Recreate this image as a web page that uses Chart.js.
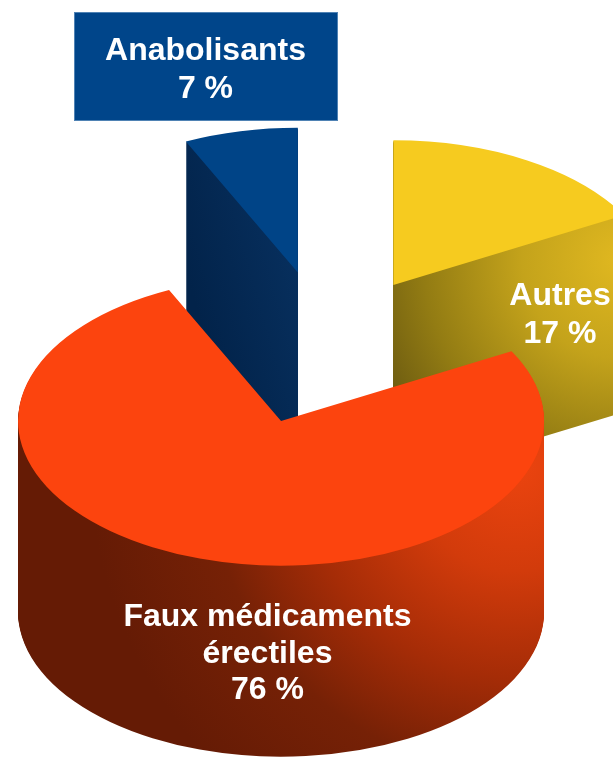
<!DOCTYPE html>
<html lang="fr"><head><meta charset="utf-8">
<style>html,body{margin:0;padding:0;background:#fff}canvas{display:block}</style>
<script src="https://cdn.jsdelivr.net/npm/chart.js@4"></script>
</head><body><canvas id="c" width="613" height="757"></canvas>
<script>
const categories = ['Autres', 'Faux médicaments\nérectiles', 'Anabolisants'];
const values = [17, 76, 7];
const topColors = ['#f6cb1f', '#fc440e', '#004487'];

const W = 613, H = 757, CX = 327.7, CY = 346, K = 0.55;
const depth = [197, 191, 200];
const explode = [129, 151, 137];
const lift = [0, -4, 0];
const drawOrder = [2, 0, 1];
const labelSpots = [
  {x: 560, y: 305, gap: 37.5},
  {x: 267.5, y: 626, gap: 36.5},
  {x: 205.5, y: 60, gap: 37.5}
];
function wallShade(c, i) {
  let g;
  if (i === 1) {
    g = c.createRadialGradient(515, 465, 0, 515, 465, 425);
    g.addColorStop(0, '#ec440f'); g.addColorStop(.25, '#d23b0b'); g.addColorStop(.5, '#a52c07');
    g.addColorStop(.72, '#762106'); g.addColorStop(1, '#651b05');
  } else if (i === 0) {
    g = c.createRadialGradient(620, 260, 0, 620, 260, 280);
    g.addColorStop(0, '#e0b820'); g.addColorStop(.35, '#c4a31b');
    g.addColorStop(.7, '#937c13'); g.addColorStop(1, '#645410');
  } else {
    g = c.createLinearGradient(194, 300, 298, 270);
    g.addColorStop(0, '#02234a'); g.addColorStop(1, '#072f5d');
  }
  return g;
}
function place(c, arc, i) {
  const mid = (arc.startAngle + arc.endAngle) / 2;
  c.translate(CX, CY + lift[i]);
  c.scale(1, K);
  c.translate(-arc.x, -arc.y);
  c.translate(Math.cos(mid) * explode[i], Math.sin(mid) * explode[i]);
}
const pie3d = {
  id: 'pie3d',
  beforeDatasetsDraw(chart) {
    const ctx = chart.ctx, arcs = chart.getDatasetMeta(0).data;
    for (const i of drawOrder) {
      const arc = arcs[i];
      const off = document.createElement('canvas');
      off.width = W; off.height = H;
      const o = off.getContext('2d');
      for (let d = depth[i]; d >= 1; d--) {
        o.save();
        o.translate(0, d);
        place(o, arc, i);
        arc.draw(o);
        o.restore();
      }
      o.globalCompositeOperation = 'source-in';
      o.fillStyle = wallShade(o, i);
      o.fillRect(0, 0, W, H);
      ctx.drawImage(off, 0, 0);
      ctx.save();
      place(ctx, arc, i);
      arc.draw(ctx);
      ctx.restore();
    }
    return false;
  },
  afterDraw(chart) {
    const ctx = chart.ctx;
    ctx.save();
    ctx.fillStyle = '#00458a';
    ctx.fillRect(74, 12, 264, 109);
    ctx.strokeStyle = '#4f82b4';
    ctx.lineWidth = 1;
    ctx.strokeRect(74.5, 12.5, 263, 108);
    ctx.fillStyle = '#fff';
    ctx.font = 'bold 32px "Liberation Sans", Arial, sans-serif';
    ctx.textAlign = 'center';
    ctx.textBaseline = 'alphabetic';
    categories.forEach((name, i) => {
      const lines = name.split('\n').concat(values[i] + ' %');
      lines.forEach((t, n) => ctx.fillText(t, labelSpots[i].x, labelSpots[i].y + n * labelSpots[i].gap));
    });
    ctx.restore();
  }
};
new Chart(document.getElementById('c'), {
  type: 'pie',
  data: {labels: categories, datasets: [{data: values, backgroundColor: topColors, borderWidth: 0}]},
  options: {
    responsive: false, animation: false, radius: 263,
    events: [],
    plugins: {legend: {display: false}, tooltip: {enabled: false}}
  },
  plugins: [pie3d]
});
</script></body></html>
